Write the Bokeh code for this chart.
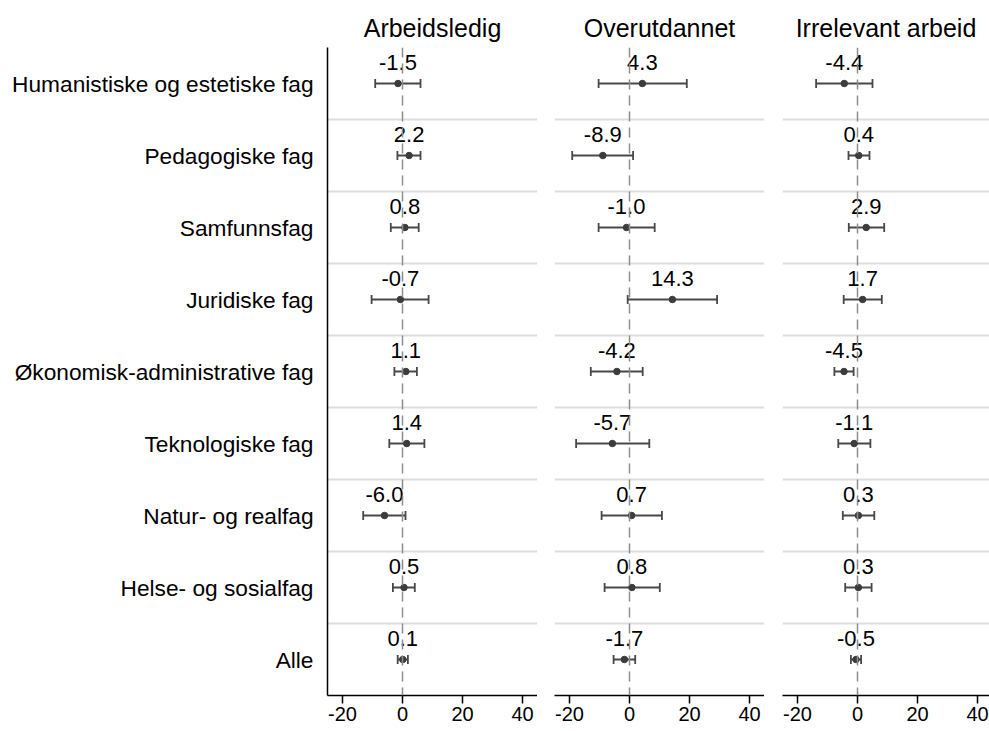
from bokeh.plotting import figure
from bokeh.layouts import row
from bokeh.models import ColumnDataSource, FixedTicker, Range1d, Span, Whisker, TeeHead
from bokeh.embed import file_html
from bokeh.resources import INLINE
from bokeh.core.properties import value

categories = ["Humanistiske og estetiske fag", "Pedagogiske fag", "Samfunnsfag",
              "Juridiske fag", "Økonomisk-administrative fag", "Teknologiske fag",
              "Natur- og realfag", "Helse- og sosialfag", "Alle"]
panel_titles = ["Arbeidsledig", "Overutdannet", "Irrelevant arbeid"]
x_ticks = [-20, 0, 20, 40]
x_tick_labels = ["-20", "0", "20", "40"]

arb_est = [-1.5, 2.2, 0.8, -0.7, 1.1, 1.4, -6.0, 0.5, 0.1]
arb_lo = [-9.1, -1.7, -3.9, -10.3, -2.7, -4.4, -13.1, -3.2, -1.6]
arb_hi = [6.0, 6.0, 5.4, 8.7, 4.8, 7.3, 1.0, 4.1, 1.8]

over_est = [4.3, -8.9, -1.0, 14.3, -4.2, -5.7, 0.7, 0.8, -1.7]
over_lo = [-10.3, -19.1, -10.3, -0.6, -12.9, -17.8, -9.3, -8.3, -5.3]
over_hi = [19.1, 1.2, 8.4, 29.2, 4.4, 6.6, 10.8, 10.1, 1.9]

irr_est = [-4.4, 0.4, 2.9, 1.7, -4.5, -1.1, 0.3, 0.3, -0.5]
irr_lo = [-13.8, -3.0, -2.9, -4.6, -7.7, -6.4, -4.9, -4.1, -2.2]
irr_hi = [5.0, 4.0, 8.9, 8.1, -1.3, 4.3, 5.6, 4.7, 1.2]

series = [(arb_est, arb_lo, arb_hi), (over_est, over_lo, over_hi), (irr_est, irr_lo, irr_hi)]

FONT = "Liberation Sans"
n = len(categories)
ypos = [n - i for i in range(n)]
label_map = {n - i: c for i, c in enumerate(categories)}

# panel geometry: (figure width, left border, x max)
geom = [(537, 327, 45), (227, 17, 45), (225, 18, 44)]

BAR = "#484848"

figs = []
for k, (title, (est, lo, hi)) in enumerate(zip(panel_titles, series)):
    first = (k == 0)
    w, left, xmax = geom[k]
    p = figure(width=w, height=731, output_backend="svg", toolbar_location=None,
               x_range=Range1d(-25, xmax), y_range=Range1d(0.5, n + 0.5),
               min_border_left=left, min_border_right=0,
               min_border_top=47, min_border_bottom=36)
    p.outline_line_color = None
    p.background_fill_color = "white"
    p.border_fill_color = "white"

    p.title.text = title
    p.title.align = "center"
    p.title.text_font = FONT
    p.title.text_font_size = "25px"
    p.title.text_font_style = "normal"
    p.title.text_color = "black"
    p.title.standoff = 11

    # x axis
    p.xaxis.ticker = FixedTicker(ticks=x_ticks)
    p.xaxis.major_label_overrides = dict(zip(x_ticks, x_tick_labels))
    p.xaxis.major_tick_out = 8
    p.xaxis.major_tick_in = 0
    p.xaxis.minor_tick_line_color = None
    p.xaxis.axis_line_width = 1.5
    p.xaxis.axis_line_color = "black"
    p.xaxis.major_tick_line_width = 1.5
    p.xaxis.major_tick_line_color = "black"
    p.xaxis.major_label_text_font = FONT
    p.xaxis.major_label_text_font_size = "20px"
    p.xaxis.major_label_text_color = "black"
    p.xaxis.major_label_standoff = 3

    # y axis
    if first:
        p.yaxis.ticker = FixedTicker(ticks=ypos)
        p.yaxis.major_label_overrides = label_map
        p.yaxis.major_tick_line_color = None
        p.yaxis.minor_tick_line_color = None
        p.yaxis.major_tick_out = 0
        p.yaxis.major_tick_in = 0
        p.yaxis.axis_line_width = 1.5
        p.yaxis.axis_line_color = "black"
        p.yaxis.major_label_text_font = FONT
        p.yaxis.major_label_text_font_size = "22.7px"
        p.yaxis.major_label_text_color = "black"
        p.yaxis.major_label_standoff = 14
    else:
        p.yaxis.visible = False

    # grids
    p.xgrid.visible = False
    p.ygrid.ticker = FixedTicker(ticks=[y - 0.5 for y in ypos[:-1]])
    p.ygrid.grid_line_color = "#dddddd"
    p.ygrid.grid_line_width = 2

    p.add_layout(Span(location=0, dimension="height", line_color="#8c8c8c",
                      line_width=1.5, line_dash="10 6"))

    src = ColumnDataSource(dict(y=ypos, est=est, lo=lo, hi=hi,
                                lbl=[f"{v:.1f}" for v in est]))
    wh = Whisker(source=src, base="y", lower="lo", upper="hi", dimension="width",
                 line_color=BAR, line_width=1.8,
                 lower_head=TeeHead(size=9, line_color=BAR, line_width=1.8),
                 upper_head=TeeHead(size=9, line_color=BAR, line_width=1.8))
    p.add_layout(wh)
    p.scatter(x="est", y="y", source=src, size=6.5, color="#3c3c3c")
    p.text(x="est", y="y", text="lbl", source=src, text_align="center",
           text_baseline="bottom", y_offset=-14, text_font=value(FONT),
           text_font_size="22px", text_color="black")
    figs.append(p)

layout = row(*figs)
open("out.html", "w").write(file_html(layout, INLINE))
